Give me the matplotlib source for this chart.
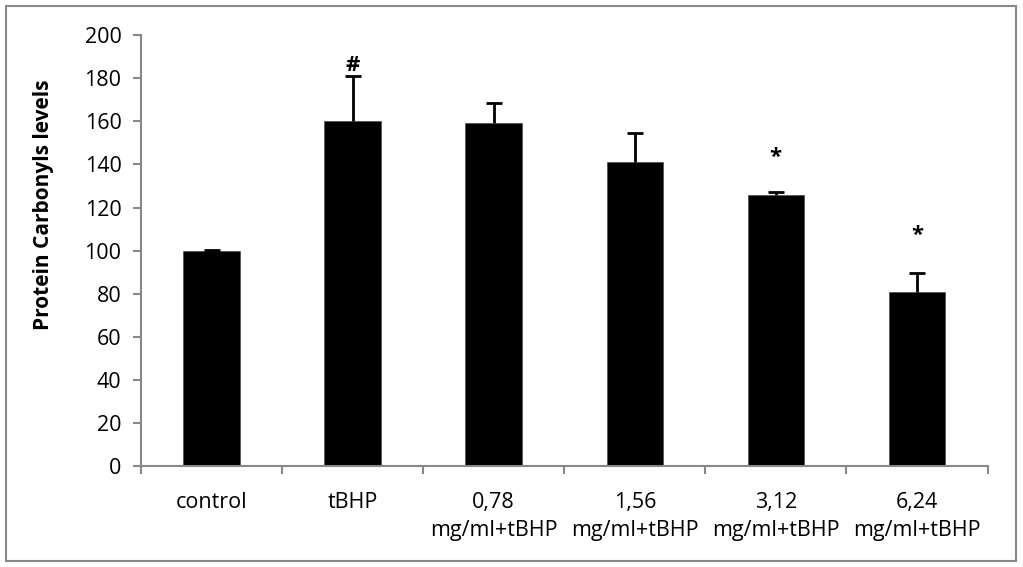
import numpy as np
import matplotlib.pyplot as plt
from matplotlib.patches import Rectangle

# data
groups = ['control', 'tBHP', '0,78\nmg/ml+tBHP', '1,56\nmg/ml+tBHP',
          '3,12\nmg/ml+tBHP', '6,24\nmg/ml+tBHP']
values = [100, 160, 159, 141, 126, 81]
errors = [0.5, 21, 9.5, 13.5, 1.3, 8.5]
marks = ['', '#', '', '', '*', '*']
mark_y = [0, 186, 0, 0, 143, 107]

plt.rcParams['font.family'] = ['Open Sans', 'DejaVu Sans']

fig = plt.figure(figsize=(10.23, 5.67), dpi=100)
ax = fig.add_axes([0.1378, 0.178, 0.8275, 0.760])

x = np.arange(len(groups))
ax.bar(x, values, width=0.4, color='black', edgecolor='#555555', linewidth=0.6)
eb = ax.errorbar(x, values, yerr=[np.zeros(len(errors)), errors], fmt='none',
                 ecolor='black', elinewidth=2, capsize=6, capthick=2)
eb[1][0].set_visible(False)  # hide lower caps

for xi, m, my in zip(x, marks, mark_y):
    if m:
        ax.text(xi, my, m, ha='center', va='center', fontsize=16, fontweight='bold')

ax.set_xlim(-0.5, len(groups) - 0.5)
ax.set_ylim(0, 200)
ax.set_yticks(np.arange(0, 201, 20))
ax.set_xticks(x)
ax.set_xticklabels(groups, fontsize=15.5, linespacing=1.38, va='top')
ax.set_xticks(np.arange(-0.5, len(groups), 1), minor=True)
ax.tick_params(axis='x', which='major', length=0, pad=19)
ax.tick_params(axis='x', which='minor', length=6, direction='out', color='#888888', width=1.5)
ax.tick_params(axis='y', length=6, direction='out', color='#888888', width=1.5, labelsize=15.5, pad=8)
for s in ['top', 'right']:
    ax.spines[s].set_visible(False)
for s in ['left', 'bottom']:
    ax.spines[s].set_color('#888888')
    ax.spines[s].set_linewidth(1.5)

ax.set_ylabel('Protein Carbonyls levels', fontsize=15, fontweight='bold', va='center')
ax.yaxis.set_label_coords(-0.115, 0.606)

fig.patches.append(Rectangle((0.006, 0.011), 0.987, 0.978, transform=fig.transFigure,
                             fill=False, edgecolor='#888888', linewidth=1.5))

fig.savefig('out.png', dpi=100)
